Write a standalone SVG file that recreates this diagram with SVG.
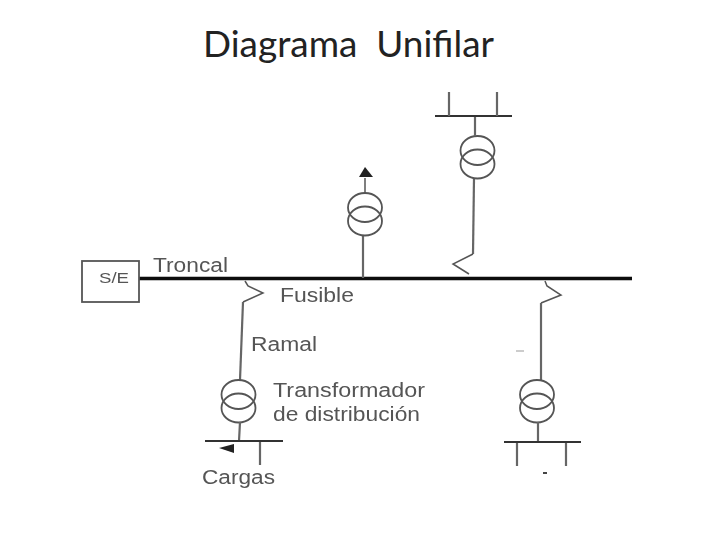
<svg xmlns="http://www.w3.org/2000/svg" width="720" height="540" viewBox="0 0 720 540">
<style>
.w{fill:none;stroke:#666;stroke-width:2.200}
.f{fill:none;stroke:#555;stroke-width:1.500}
.t{fill:none;stroke:#555;stroke-width:1.800}
.b{fill:none;stroke:#333;stroke-width:2}
.a{fill:#222;stroke:none}
text{font-family:"Liberation Sans",Arial,sans-serif;fill:#555;font-size:19.500px}
.h{font-family:Lato,"Open Sans",sans-serif;fill:#222;font-size:36px}
</style>
<defs>
<filter id="s" x="-5%" y="-5%" width="110%" height="110%"><feGaussianBlur stdDeviation="0.6"/></filter>
<g id="tx"><ellipse class="t" cx="0" cy="14.500" rx="17" ry="14.500"/><ellipse class="t" cx="0" cy="28" rx="17" ry="14.500"/></g>
</defs>
<rect width="720" height="540" fill="#fff"/>
<text id="title" class="h" x="203" y="57" textLength="291" lengthAdjust="spacingAndGlyphs" xml:space="preserve">Diagrama  Unifilar</text>
<g filter="url(#s)">
<g id="connectors">
<path d="M139 278.500H632" fill="none" stroke="#111" stroke-width="3.400"/>
<path class="f" d="M245 281L248 286L263 293L243 302"/>
<path class="w" d="M243 302L240 380"/>
<path class="w" d="M363 278V236"/>
<path class="w" d="M474 178L473 254"/>
<path class="f" d="M473 254L453 264L469 274"/>
<path class="f" d="M545 281L547 286L561 295L541 303"/>
<path class="w" d="M541 303V380"/>
</g>
<g id="se"><rect class="t" x="82" y="261" width="57" height="41"/><text x="99" y="283" textLength="30" lengthAdjust="spacingAndGlyphs" style="font-size:14.500px">S/E</text></g>
<text id="l-troncal" x="153" y="272" textLength="75" lengthAdjust="spacingAndGlyphs">Troncal</text>
<text id="l-fusible" x="280" y="301.500" textLength="74" lengthAdjust="spacingAndGlyphs">Fusible</text>
<text id="l-ramal" x="251" y="350.500" textLength="66" lengthAdjust="spacingAndGlyphs">Ramal</text>
<g id="t1"><use href="#tx" x="238.500" y="380"/><path class="w" d="M240 422L239 441M260 441V465"/><path class="b" d="M205 441H283"/><path class="a" d="M219 448L234 444V453Z"/>
<text x="273" y="397" textLength="152" lengthAdjust="spacingAndGlyphs">Transformador</text><text x="273" y="421" textLength="147" lengthAdjust="spacingAndGlyphs">de distribución</text><text x="202" y="484" textLength="73" lengthAdjust="spacingAndGlyphs">Cargas</text></g>
<g id="t2"><use href="#tx" x="365" y="193"/><path class="f" d="M365 193V178"/><path class="a" d="M365 167L373 177H359Z"/></g>
<g id="t3"><use href="#tx" x="477.500" y="136"/><path class="w" d="M475 116V136"/><path class="b" d="M435 116H512"/><path class="w" d="M449 92V116M497 92V116"/></g>
<g id="t4"><use href="#tx" x="537" y="380"/><path class="w" d="M538 422V441M517 442V466M566 442V466"/><path class="b" d="M504 442H581"/>
<path d="M516 351H524" stroke="#999" fill="none"/><path d="M543 473H547" stroke="#444" stroke-width="2" fill="none"/></g>
</g>
</svg>
